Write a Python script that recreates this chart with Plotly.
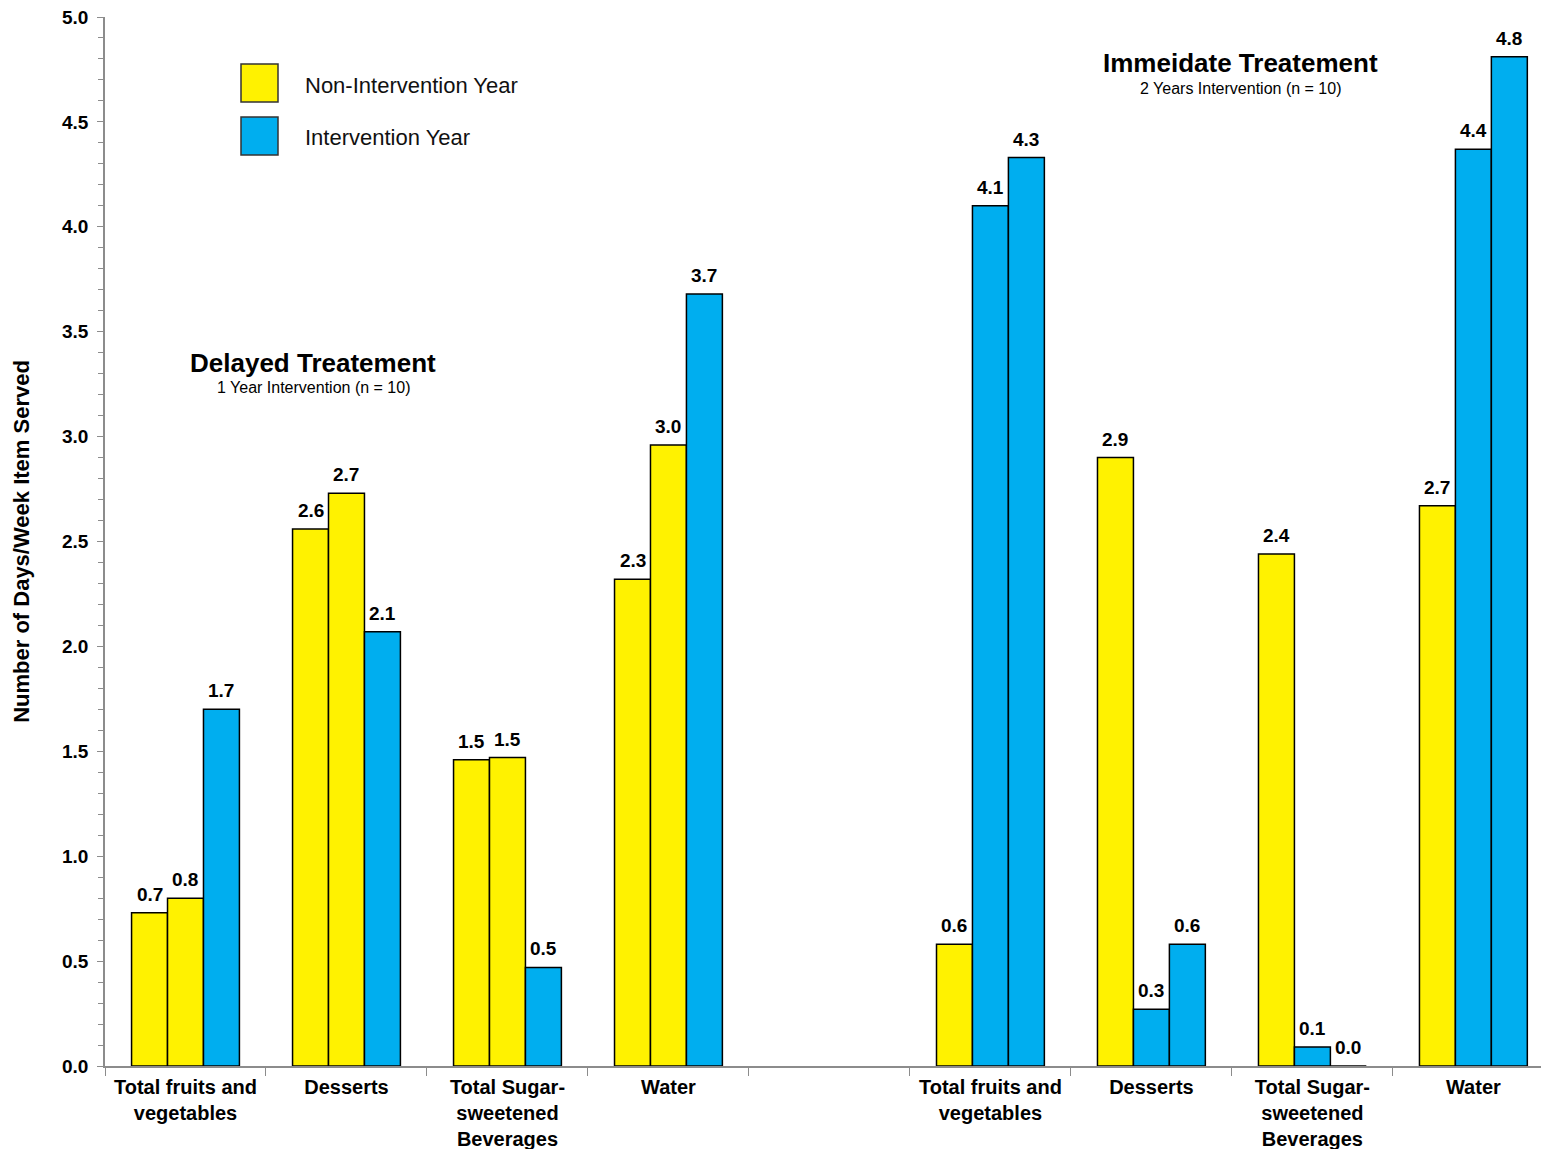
import plotly.graph_objects as go

categories = ["Total fruits and<br>vegetables", "Desserts", "Total Sugar-<br>sweetened<br>Beverages", "Water"]
delayed_x = [0, 1, 2, 3]
immediate_x = [5, 6, 7, 8]

delayed_bar1 = [0.73, 2.56, 1.46, 2.32]
delayed_bar2 = [0.80, 2.73, 1.47, 2.96]
delayed_bar3 = [1.70, 2.07, 0.47, 3.68]
immediate_bar1 = [0.58, 2.90, 2.44, 2.67]
immediate_bar2 = [4.10, 0.27, 0.09, 4.37]
immediate_bar3 = [4.33, 0.58, 0.00, 4.81]

YELLOW = "#FFF200"
BLUE = "#00AEEF"
delayed_colors = [YELLOW, YELLOW, BLUE]
immediate_colors = [YELLOW, BLUE, BLUE]

FONT = "Arial, 'Liberation Sans', sans-serif"
BARGAP = 0.33

fig = go.Figure()
series = [
    (delayed_bar1, immediate_bar1),
    (delayed_bar2, immediate_bar2),
    (delayed_bar3, immediate_bar3),
]
n_series = len(series)
bar_w = (1 - BARGAP) / n_series
xs = delayed_x + immediate_x
for i, (d, im) in enumerate(series):
    ys = d + im
    fig.add_trace(go.Bar(
        x=xs,
        y=ys,
        marker=dict(color=[delayed_colors[i]] * len(d) + [immediate_colors[i]] * len(im),
                    line=dict(color="black", width=1.5)),
        showlegend=False,
        hovertemplate="%{y:.2f}<extra></extra>",
    ))
    off = (i - (n_series - 1) / 2) * bar_w
    for xv, yv in zip(xs, ys):
        fig.add_annotation(x=xv + off, y=yv, xref="x", yref="y",
                           text=f"{yv:.1f}", showarrow=False,
                           xanchor="center", yanchor="bottom", yshift=6,
                           font=dict(family=FONT, size=19, color="black", weight="bold"))

fig.update_layout(
    width=1541, height=1149,
    margin=dict(l=105, r=0, t=17, b=83),
    paper_bgcolor="white", plot_bgcolor="white",
    barmode="group", bargap=BARGAP, bargroupgap=0,
    font=dict(family=FONT, color="black"),
)

fig.update_xaxes(
    range=[-0.5, 8.42],
    automargin=False,
    tickmode="array",
    tickvals=xs,
    ticktext=categories + categories,
    ticks="",
    ticklabelstandoff=2,
    tickfont=dict(family=FONT, size=20, color="black", weight="bold"),
    showline=True, linecolor="#8c8c8c", linewidth=1.5,
    showgrid=False, zeroline=False,
    minor=dict(tickmode="array", tickvals=[k - 0.5 for k in range(10)],
               ticks="outside", ticklen=8, tickcolor="#8c8c8c", tickwidth=1.2,
               showgrid=False),
)
fig.update_yaxes(
    range=[0, 5], dtick=0.5, tick0=0, tickformat=".1f",
    automargin=False,
    ticks="outside", ticklen=6, tickcolor="#8c8c8c", tickwidth=1.2,
    ticklabelstandoff=5,
    tickfont=dict(family=FONT, size=19, color="black", weight="bold"),
    showline=True, linecolor="#8c8c8c", linewidth=1.5,
    showgrid=False, zeroline=False,
    minor=dict(dtick=0.1, ticks="outside", ticklen=5, tickcolor="#8c8c8c", tickwidth=1.2, showgrid=False),
    title=dict(text="Number of Days/Week Item Served",
               font=dict(family=FONT, size=22, color="black", weight="bold"), standoff=26),
)

# Legend drawn as swatches + text
legend_items = [("Non-Intervention Year", YELLOW), ("Intervention Year", BLUE)]
for j, (name, col) in enumerate(legend_items):
    y0 = 64 + j * 53
    fig.add_shape(type="rect", xref="paper", yref="paper",
                  x0=(241 - 105) / 1436, x1=(278 - 105) / 1436,
                  y0=1 - (y0 + 38 - 17) / 1049, y1=1 - (y0 - 17) / 1049,
                  fillcolor=col, line=dict(color="#333333", width=1.5))
    fig.add_annotation(xref="paper", yref="paper",
                       x=(303 - 105) / 1436, y=1 - (y0 + 21 - 17) / 1049,
                       xanchor="left", yanchor="middle", showarrow=False,
                       text=name, font=dict(family=FONT, size=22, color="#111111"))

# Group titles
def group_title(cx, ty, title, sub):
    fig.add_annotation(xref="paper", yref="paper",
                       x=(cx - 105) / 1436, y=1 - (ty - 17) / 1049,
                       xanchor="center", yanchor="middle", showarrow=False,
                       text=title, font=dict(family=FONT, size=26, color="black", weight="bold"))
    fig.add_annotation(xref="paper", yref="paper",
                       x=(cx - 105) / 1436, y=1 - (ty + 25 - 17) / 1049,
                       xanchor="center", yanchor="middle", showarrow=False,
                       text=sub, font=dict(family=FONT, size=16, color="black"))

group_title(313, 363, "Delayed Treatement", "1 Year Intervention (n = 10)")
group_title(1240, 63, "Immeidate Treatement", "2 Years Intervention (n = 10)")

fig.write_html("out.html")
